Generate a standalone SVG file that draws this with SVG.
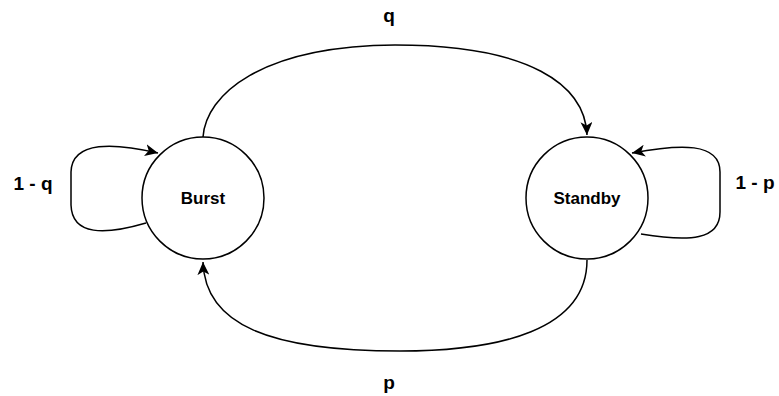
<svg xmlns="http://www.w3.org/2000/svg" width="779" height="396" viewBox="0 0 779 396">
<style>
.node{fill:#fff;stroke:#000;stroke-width:1.5}
.edge{fill:none;stroke:#000;stroke-width:1.5}
.nl{font-family:"Liberation Sans",Arial,sans-serif;font-weight:bold;font-size:17px;text-anchor:middle;fill:#000}
.el{font-family:"Liberation Sans",Arial,sans-serif;font-weight:bold;font-size:19px;text-anchor:middle;fill:#000}
</style>
<defs>
<marker id="arr" markerUnits="userSpaceOnUse" markerWidth="14" markerHeight="12" viewBox="0 0 14 12" refX="13" refY="6" orient="auto">
<path d="M0,0 L13,6 L0,12 L3.5,6 Z" fill="#000"/>
</marker>
</defs>
<g id="connectors">
<path class="edge" d="M203,137 C206,95 260,46 395,45 C530,45 585,85 587,135" marker-end="url(#arr)"/>
<path class="edge" d="M587,260 C587,330 500,351 400,351 C270,351 205,325 203,262" marker-end="url(#arr)"/>
<path class="edge" d="M146,223 C105,235 72,236 71,205 L71,172 C72,140 115,143 158,153" marker-end="url(#arr)"/>
<path class="edge" d="M641,234 C690,242 720,240 720,212 L720,172 C720,142 680,144 632,153" marker-end="url(#arr)"/>
</g>
<g id="burst">
<circle class="node" cx="203" cy="198" r="61"/>
<text class="nl" x="203" y="204">Burst</text>
</g>
<g id="standby">
<circle class="node" cx="587" cy="198" r="61"/>
<text class="nl" x="587" y="204">Standby</text>
</g>
<g id="labels">
<text class="el" x="389" y="22">q</text>
<text class="el" x="389" y="389">p</text>
<text class="el" x="33" y="190">1 - q</text>
<text class="el" x="755" y="189">1 - p</text>
</g>
</svg>
